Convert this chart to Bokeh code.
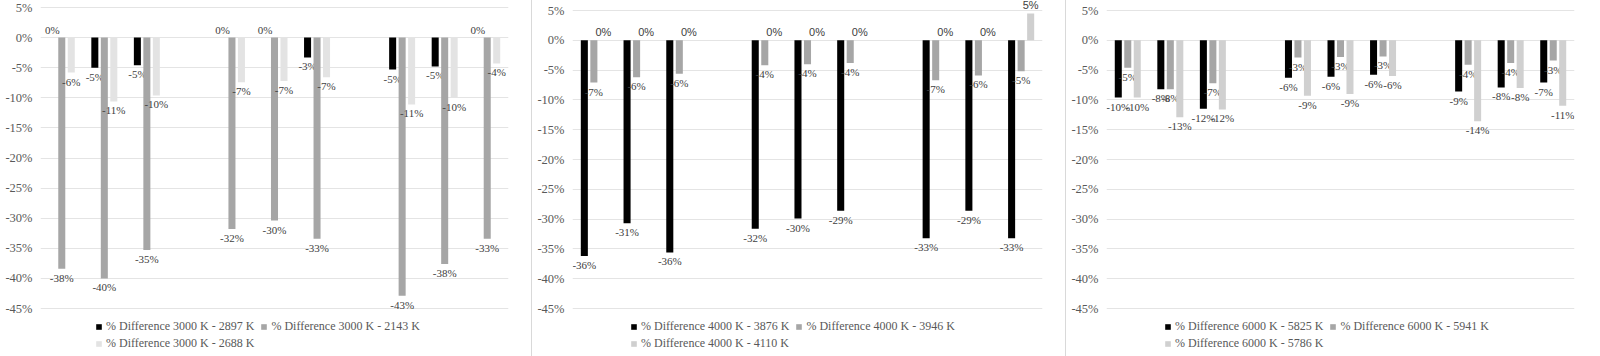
import math
from bokeh.plotting import figure
from bokeh.models import (Range1d, FactorRange, FixedTicker, PrintfTickFormatter,
                          ColumnDataSource, Legend, LegendItem)
from bokeh.transform import dodge
from bokeh.layouts import row
from bokeh.core.properties import value
from bokeh.embed import file_html
from bokeh.resources import INLINE

# ---------------- data ----------------
categories = ["G1", "G2", "G3", "gap1", "G4", "G5", "G6", "gap2", "G7", "G8", "G9"]
groups = ["G1", "G2", "G3", "G4", "G5", "G6", "G7", "G8", "G9"]
y_ticks = [5, 0, -5, -10, -15, -20, -25, -30, -35, -40, -45]

p1_names = ["% Difference 3000 K - 2897 K", "% Difference 3000 K - 2143 K",
            "% Difference 3000 K - 2688 K"]
p1_black = [0, -5.0, -4.6, 0, 0, -3.3, -5.3, -4.8, 0]
p1_gray = [-38.4, -40.0, -35.3, -31.8, -30.4, -33.4, -42.9, -37.6, -33.4]
p1_light = [-5.8, -10.6, -9.6, -7.4, -7.2, -6.6, -11.1, -10.0, -4.3]

p2_names = ["% Difference 4000 K - 3876 K", "% Difference 4000 K - 3946 K",
            "% Difference 4000 K - 4110 K"]
p2_black = [-36.2, -30.7, -35.6, -31.6, -29.9, -28.6, -33.2, -28.6, -33.2]
p2_gray = [-7.1, -6.2, -5.6, -4.2, -4.0, -3.8, -6.7, -5.9, -5.2]
p2_light = [0, 0, 0, 0, 0, 0, 0, 0, 4.5]

p3_names = ["% Difference 6000 K - 5825 K", "% Difference 6000 K - 5941 K",
            "% Difference 6000 K - 5786 K"]
p3_black = [-9.6, -8.2, -11.5, -6.3, -6.1, -5.8, -8.6, -7.9, -7.1]
p3_gray = [-4.6, -8.2, -7.2, -2.9, -2.8, -2.7, -4.1, -3.8, -3.4]
p3_light = [-9.6, -12.9, -11.6, -9.3, -9.0, -6.0, -13.6, -8.0, -11.0]

SERIF = "'Liberation Serif', 'Times New Roman', serif"
SANS = "'Liberation Sans', Arial, sans-serif"

HEIGHT = 356
AXIS_BOTTOM_PX = 308     # pixel row of the lowest gridline
Y_TOP, Y_BOT = 5, -45


def fmt(v):
    r = int(math.floor(abs(v) + 0.5))
    return f"-{r}%" if (v < 0 and r != 0) else f"{r}%"


def make_panel(names, series, colors, label_fonts, width, top, leg_x):
    # frame spans the whole height; the 5%..-45% axis sits between `top` and 308 px
    px_per = (AXIS_BOTTOM_PX - top) / (Y_TOP - Y_BOT)
    y_start = Y_BOT - (HEIGHT - AXIS_BOTTOM_PX) / px_per
    y_end = Y_TOP + top / px_per
    p = figure(width=width, height=HEIGHT,
               x_range=FactorRange(*categories, range_padding=0),
               y_range=Range1d(y_start, y_end),
               output_backend="svg", toolbar_location=None,
               min_border_left=40, min_border_right=24,
               min_border_top=0, min_border_bottom=0)
    p.outline_line_color = None
    p.background_fill_color = "white"
    p.border_fill_color = "white"
    p.xaxis.visible = False
    p.xgrid.grid_line_color = None
    p.ygrid.grid_line_color = "#e4e4e4"
    p.ygrid.ticker = FixedTicker(ticks=y_ticks)
    ax = p.yaxis[0]
    ax.ticker = FixedTicker(ticks=y_ticks)
    ax.formatter = PrintfTickFormatter(format="%d%%")
    ax.axis_line_color = None
    ax.major_tick_line_color = None
    ax.minor_tick_line_color = None
    ax.major_tick_out = 0
    ax.major_label_standoff = 8
    ax.major_label_text_font = SERIF
    ax.major_label_text_font_size = "12.5px"
    ax.major_label_text_color = "#595959"

    offsets = [-0.223, 0.0, 0.223]
    renderers = []
    for vals, col, off, lf in zip(series, colors, offsets, label_fonts):
        src = ColumnDataSource(dict(cat=groups, val=vals))
        r = p.vbar(x=dodge("cat", off, range=p.x_range), top="val", bottom=0,
                   width=0.165, source=src, fill_color=col, line_color=None)
        renderers.append(r)
        neg = [(g, v, fmt(v)) for g, v in zip(groups, vals) if v < 0]
        pos = [(g, v, fmt(v)) for g, v in zip(groups, vals) if v >= 0]
        for subset, base, yoff in ((neg, "top", 3), (pos, "bottom", -2)):
            if not subset:
                continue
            s = ColumnDataSource(dict(cat=[a[0] for a in subset],
                                      val=[a[1] for a in subset],
                                      lab=[a[2] for a in subset]))
            p.text(x=dodge("cat", off, range=p.x_range), y="val", text="lab",
                   source=s, text_align="center", text_baseline=base,
                   y_offset=yoff, text_font=value(lf),
                   text_font_size="11px", text_color="#404040")

    items = [LegendItem(label=n, renderers=[r]) for n, r in zip(names, renderers)]
    common = dict(padding=0, margin=0, spacing=6, label_standoff=4,
                  glyph_width=7, glyph_height=7, label_height=14,
                  label_text_font=SERIF, label_text_font_size="12px",
                  label_text_color="#595959", border_line_color=None,
                  background_fill_alpha=0, orientation="horizontal")
    leg1 = Legend(items=items[:2], location=(leg_x, 22), **common)
    leg2 = Legend(items=items[2:], location=(leg_x, 5), **common)
    p.add_layout(leg1, "center")
    p.add_layout(leg2, "center")
    return p


p1 = make_panel(p1_names, [p1_black, p1_gray, p1_light],
                ["#000000", "#a6a6a6", "#e3e3e3"], [SERIF, SERIF, SERIF],
                532, 7, 55)
p2 = make_panel(p2_names, [p2_black, p2_gray, p2_light],
                ["#000000", "#a6a6a6", "#cfcfcf"], [SERIF, SERIF, SANS],
                534, 10, 58)
p3 = make_panel(p3_names, [p3_black, p3_gray, p3_light],
                ["#000000", "#a6a6a6", "#d0d0d0"], [SERIF, SERIF, SERIF],
                532, 10, 58)
p1.styles = {"border-right": "1px solid #d9d9d9"}
p2.styles = {"border-right": "1px solid #d9d9d9"}

layout = row(p1, p2, p3)
open("out.html", "w").write(file_html(layout, INLINE))
